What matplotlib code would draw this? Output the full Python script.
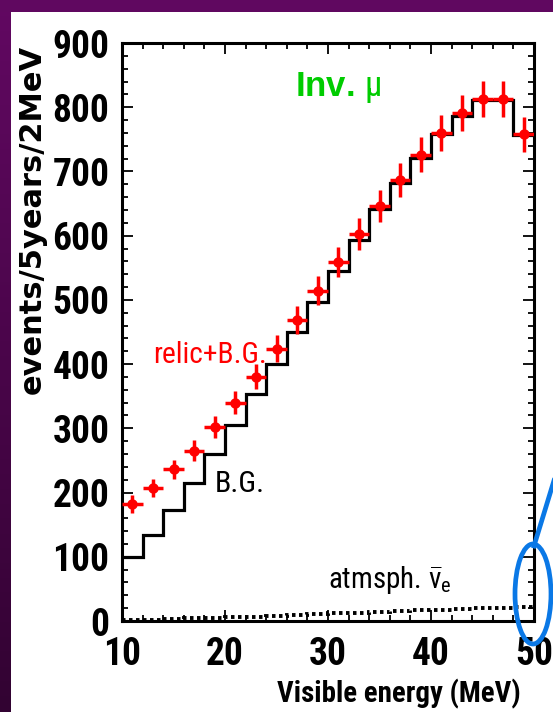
"""
relic neutrino spectrum, inv. mu sample
"""
import matplotlib
matplotlib.use("Agg")
import matplotlib.pyplot as plt
from matplotlib import font_manager
from matplotlib.patches import Ellipse, Rectangle
from matplotlib.lines import Line2D
import numpy as np

# histogram bins (MeV)
energy_edges = [10, 12, 14, 16, 18, 20, 22, 24, 26, 28, 30,
                32, 34, 36, 38, 40, 42, 44, 46, 48, 50]
energy_centers = [11, 13, 15, 17, 19, 21, 23, 25, 27, 29,
                  31, 33, 35, 37, 39, 41, 43, 45, 47, 49]

# events / 5 years / 2 MeV
background = [100, 134, 173, 215, 260, 305, 353, 400, 450, 497,
              545, 593, 641, 682, 721, 758, 787, 811, 811, 757]
relic_plus_bg = [182, 207, 236, 265, 302, 340, 380, 424, 469, 514,
                 559, 603, 646, 687, 726, 760, 791, 813, 813, 758]
relic_err = [13.5, 14.4, 15.4, 16.3, 17.4, 18.4, 19.5, 20.6, 21.7, 22.7,
             23.6, 24.6, 25.4, 26.2, 26.9, 27.6, 28.1, 28.5, 28.5, 27.5]
atm_nue = [1.5, 2, 3, 4, 5, 6, 7, 8, 9, 10.5,
           12, 13, 14, 15, 16.5, 17.5, 18.5, 19.5, 21, 22]

x_ticks = [10, 20, 30, 40, 50]
y_ticks = [0, 100, 200, 300, 400, 500, 600, 700, 800, 900]

installed = {f.name for f in font_manager.fontManager.ttflist}
NARROW = "Liberation Sans"
for cand in ["Liberation Sans Narrow", "Roboto Condensed", "DejaVu Sans Condensed"]:
    if cand in installed:
        NARROW = cand
        break

plt.rcParams["mathtext.fontset"] = "custom"
plt.rcParams["mathtext.rm"] = NARROW
plt.rcParams["mathtext.it"] = NARROW
plt.rcParams["mathtext.bf"] = NARROW + ":bold"

W, H = 553, 712
fig = plt.figure(figsize=(W / 100, H / 100), dpi=100, facecolor="white")


def fit_width(txt, target_px):
    # scale font so the drawn text spans target_px
    for _ in range(2):
        fig.canvas.draw()
        w = txt.get_window_extent().width
        txt.set_fontsize(txt.get_fontsize() * target_px / w)


# slide background strips
bg = fig.add_axes([0, 0, 1, 1], zorder=0)
bg.set_xlim(0, W)
bg.set_ylim(H, 0)
bg.axis("off")
grad = np.linspace(0, 1, 256).reshape(-1, 1)
cmap = matplotlib.colors.LinearSegmentedColormap.from_list("slide", ["#620862", "#320332"])
bg.imshow(grad, cmap=cmap, aspect="auto", extent=(0, 10.5, H, 0))
bg.add_patch(Rectangle((0, 0), W, 12, color="#600860", lw=0))

ax = fig.add_axes([122 / W, 1 - 621 / H, 412 / W, 578 / H], zorder=1)
ax.set_facecolor("white")

ax.stairs(background, energy_edges, baseline=None, color="black", lw=2.3, zorder=2)
ax.stairs(atm_nue, energy_edges, baseline=None, color="black", lw=2.8,
          linestyle=(0, (0.9, 0.9)), zorder=2)
ax.errorbar(energy_centers, relic_plus_bg, xerr=1, yerr=relic_err, fmt="o",
            color="#ff0000", ms=6.5, elinewidth=2.5, capsize=0, zorder=3)

ax.set_xlim(10, 50)
ax.set_ylim(0, 900)
ax.set_xticks(x_ticks)
ax.set_yticks(y_ticks)
ax.set_xticks(energy_edges, minor=True)
ax.set_yticks(range(0, 901, 20), minor=True)
ax.tick_params(which="both", direction="in", top=True, right=True, width=1.3)
ax.tick_params(which="major", length=8)
ax.tick_params(which="minor", length=4)
ax.tick_params(axis="y", pad=9)
ax.tick_params(axis="x", pad=11)
for lab in ax.get_xticklabels() + ax.get_yticklabels():
    lab.set_family(NARROW)
    lab.set_fontweight("bold")
    lab.set_fontsize(27)
for sp in ax.spines.values():
    sp.set_linewidth(2.2)

ax.set_xlabel("Visible energy (MeV)", family=NARROW, fontweight="bold",
              fontsize=20, ha="left", va="baseline")
ax.xaxis.set_label_coords((277 - 122) / 412, -81 / 578)
ax.set_ylabel("events/5years/2MeV", family="DejaVu Sans", fontweight="bold",
              fontsize=22)
ax.yaxis.set_label_coords(-0.182, 0.694)

ax.text(26.8, 817, r"Inv. $\mathrm{\mu}$", color="#00cc00", family="Liberation Sans",
        fontweight="bold", fontsize=25, va="baseline")
t_relic = ax.text(13.0, 402, "relic+B.G.", color="#ff0000", family=NARROW,
                  fontsize=20, va="baseline")
t_bg = ax.text(19.0, 201, "B.G.", color="black", family=NARROW, fontsize=20,
               va="baseline")
t_atm = ax.text(30.0, 51, r"atmsph. $\bar{\mathrm{\nu}}_\mathrm{e}$", color="black",
                family=NARROW, fontsize=20, va="baseline")

fit_width(ax.xaxis.label, 243)
fit_width(t_relic, 114)
fit_width(t_bg, 50)
fit_width(t_atm, 124)

# blue annotation on top of the slide
ov = fig.add_axes([0, 0, 1, 1], zorder=3)
ov.set_xlim(0, W)
ov.set_ylim(H, 0)
ov.axis("off")
ov.patch.set_alpha(0)
ov.add_patch(Ellipse((533, 594), 36, 100, fill=False, ec="#0a78e6", lw=3.4))
ov.add_line(Line2D([534, 556], [546, 474], color="#0a78e6", lw=3.4))

fig.savefig("out.png", dpi=100)
